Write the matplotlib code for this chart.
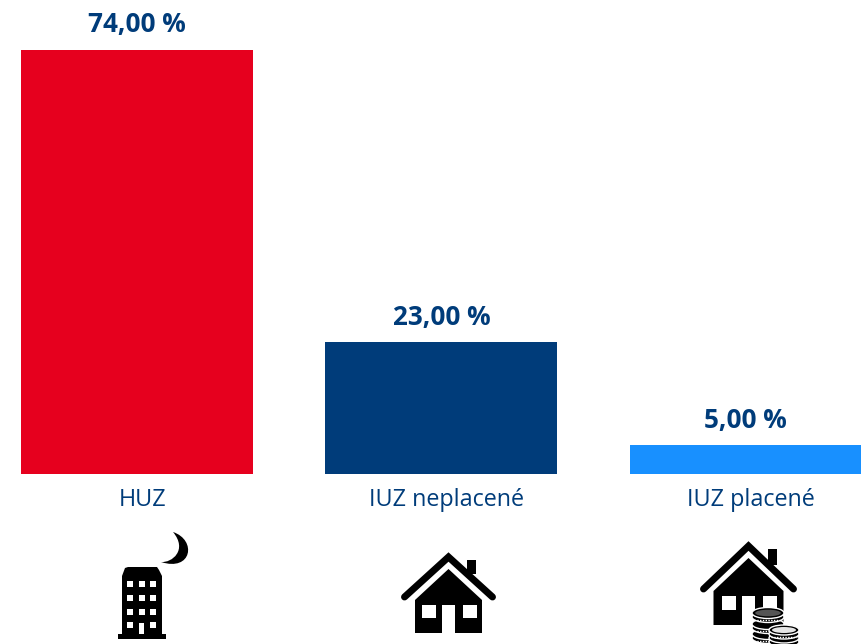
import matplotlib
matplotlib.use("Agg")
import matplotlib.pyplot as plt
from matplotlib.patches import Ellipse, PathPatch, Polygon, Rectangle
from matplotlib.path import Path
from matplotlib.transforms import ScaledTranslation
import numpy as np

categories = ["HUZ", "IUZ neplacené", "IUZ placené"]
values = [74, 23, 5]
value_labels = ["74,00 %", "23,00 %", "5,00 %"]
bar_colors = ["#E6001E", "#003C7A", "#1890FF"]
TEXT_COLOR = "#003C7A"

plt.rcParams["font.family"] = ["Open Sans", "DejaVu Sans"]

W, H = 862, 644
fig = plt.figure(figsize=(W / 100, H / 100), dpi=100)

# bar area: full width, top of the picture down to the baseline at y=474
ax = fig.add_axes([0, 1 - 474 / H, 1, 474 / H])
x = np.arange(len(categories))
ax.bar(x, values, width=0.762, color=bar_colors)
ax.set_xlim(-0.45, 2.3818)
ax.set_ylim(0, 82.7)
ax.set_xticks(x)
ax.set_xticklabels(categories, fontsize=16.8, color=TEXT_COLOR)
ax.tick_params(axis="x", length=0, pad=10)
# category names sit a little right of the bar centres
for t in ax.get_xticklabels():
    t.set_transform(t.get_transform() + ScaledTranslation(5.5 / 100, 0, fig.dpi_scale_trans))
ax.set_yticks([])
for s in ax.spines.values():
    s.set_visible(False)
for xi, v, lab in zip(x, values, value_labels):
    ax.annotate(lab, (xi, v), xytext=(0, 28), textcoords="offset pixels",
                ha="center", va="center_baseline", fontsize=18.8,
                fontweight="bold", color=TEXT_COLOR)

# icons, drawn in picture pixels
ic = fig.add_axes([0, 0, 1, 1], zorder=3)
ic.set_xlim(0, W)
ic.set_ylim(H, 0)
ic.axis("off")
ic.patch.set_alpha(0)


def rect(x0, y0, x1, y1, color="black", z=4):
    ic.add_patch(Rectangle((x0, y0), x1 - x0, y1 - y0, color=color, lw=0, zorder=z))


def building():
    rect(118, 634, 166, 639)
    ic.add_patch(Polygon([(122, 634), (122, 576), (125, 568), (128, 567), (157, 567),
                          (159, 570), (162, 576), (162, 634)], color="black", lw=0, zorder=4))
    for wy in [584, 598, 612, 625]:
        for wx in [130, 142, 153]:
            if wy == 625 and wx == 142:
                continue
            rect(wx - 3, wy - 3, wx + 3, wy + 3, "white", 5)
    rect(139, 623, 144, 634, "white", 5)
    moon = Path([(173, 532), (197, 540), (192, 572), (161, 562),
                 (172, 563), (188, 550), (173, 532)],
                [Path.MOVETO, Path.CURVE4, Path.CURVE4, Path.CURVE4,
                 Path.CURVE4, Path.CURVE4, Path.CURVE4])
    ic.add_patch(PathPatch(moon, color="black", lw=0, zorder=4))


def house(cx, apex, tip_y, half_w, chim, body_top, body_half, eave_y, bottom, door_y, win_h):
    # roof chevron
    ic.plot([cx - half_w, cx, cx + half_w], [tip_y, apex, tip_y], color="black",
            lw=5, solid_capstyle="round", solid_joinstyle="miter", zorder=4)
    rect(chim[0], chim[1], chim[2], chim[3])
    ic.add_patch(Polygon([(cx - body_half, bottom), (cx - body_half, eave_y), (cx, body_top),
                          (cx + body_half, eave_y), (cx + body_half, bottom)],
                         color="black", lw=0, zorder=4))
    rect(cx - 6.5, door_y, cx + 6.5, bottom, "white", 5)
    rect(cx - 26.5, door_y, cx - 12.5, door_y + win_h, "white", 5)
    rect(cx + 14.5, door_y, cx + 28.5, door_y + win_h, "white", 5)


def coin_stack(cx, ys, rx, ry, z, top_color):
    # bottom coin first, each one with a white outline
    for i, cy in enumerate(ys):
        ic.add_patch(Rectangle((cx - rx, cy), 2 * rx, 4, fc="black", ec="none", zorder=z + i))
        ic.add_patch(Ellipse((cx, cy + 4), 2 * rx, 2 * ry, fc="black", ec="white",
                             lw=1.0, zorder=z + i))
        ic.add_patch(Ellipse((cx, cy), 2 * rx, 2 * ry, fc="black", ec="white",
                             lw=1.0, zorder=z + i))
        ic.plot([cx - rx + 2, cx + rx - 2], [cy + ry + 1.5] * 2, color="white", lw=1.0,
                ls=(0, (1, 1)), zorder=z + i)
    ic.add_patch(Ellipse((cx, ys[-1]), 1.6 * rx, 1.2 * ry, fc=top_color, ec="none",
                         zorder=z + len(ys)))


building()
house(448.5, 557, 597, 44, (467, 560, 476, 574), 569, 33.5, 600, 633, 605, 13)
house(748.5, 546, 589, 45, (768, 549, 777, 565), 558, 35, 591, 625, 596, 14)
coin_stack(768, [634, 624, 613], 16, 5.5, 6, "#555555")
coin_stack(784, [638, 630], 15, 5, 12, "#E5E5E5")

fig.savefig("out.png", dpi=100)
